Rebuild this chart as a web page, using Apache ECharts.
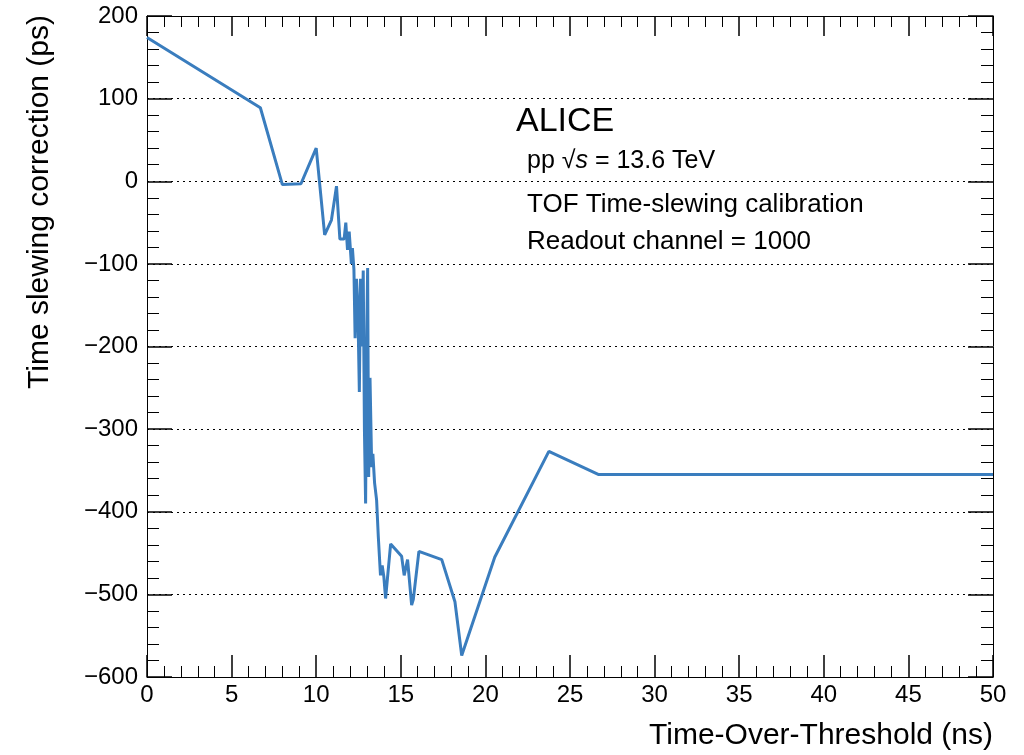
<!DOCTYPE html>
<html><head><meta charset="utf-8">
<script src="https://cdn.jsdelivr.net/npm/echarts@6/dist/echarts.min.js"></script>
<style>html,body{margin:0;padding:0;background:#fff}#c{width:1024px;height:755px}</style>
</head><body><div id="c"></div>
<script>
const tot = [0, 6.7, 8.0, 9.1, 10.0, 10.5, 10.9, 11.2, 11.4, 11.65, 11.75, 11.85, 11.95, 12.03, 12.08, 12.14, 12.23, 12.3, 12.38, 12.46, 12.55, 12.62, 12.7, 12.78, 12.85, 12.92, 12.98, 13.04, 13.1, 13.18, 13.28, 13.35, 13.45, 13.57, 13.67, 13.8, 13.9, 14.0, 14.1, 14.4, 15.05, 15.2, 15.4, 15.64, 15.74, 16.07, 17.42, 18.2, 18.6, 20.55, 23.75, 26.7, 50];
const correction = [174, 89, -4, -3, 40, -65, -47, -6, -70, -70, -50, -83, -61, -61, -100, -81, -107, -190, -118, -150, -255, -118, -200, -108, -300, -390, -200, -105, -358, -238, -346, -330, -365, -386, -430, -477, -465, -479, -505, -439, -454, -477, -458, -513, -506, -448, -458, -509, -574, -455, -327, -355, -355];
const xTicks = [0, 5, 10, 15, 20, 25, 30, 35, 40, 45, 50];
const yTicks = [-600, -500, -400, -300, -200, -100, 0, 100, 200];
const xTitle = 'Time-Over-Threshold (ns)';
const yTitle = 'Time slewing correction (ps)';
const labels = ['ALICE', 'TOF Time-slewing calibration', 'Readout channel = 1000'];

const FONT = '"Liberation Sans", Arial, sans-serif';
const chart = echarts.init(document.getElementById('c'));
const fmt = v => String(v).replace('-', '\u2212');
const G = {left: 147, right: 31, top: 16, bottom: 78};
const baseX = {
  type: 'value', min: xTicks[0], max: xTicks[xTicks.length-1], interval: 5,
  axisLine: {show: true, onZero: false, lineStyle: {color: '#000', width: 1}},
  splitLine: {show: false},
  minorTick: {show: true, splitNumber: 5, length: 11, lineStyle: {color: '#000', width: 1}},
};
const baseY = {
  type: 'value', min: yTicks[0], max: yTicks[yTicks.length-1], interval: 100,
  axisLine: {show: true, onZero: false, lineStyle: {color: '#000', width: 1}},
  minorTick: {show: true, splitNumber: 5, length: 12, lineStyle: {color: '#000', width: 1}},
};
chart.setOption({
  animation: false,
  grid: G,
  xAxis: [
    Object.assign({}, baseX, {position: 'bottom',
      axisTick: {show: true, inside: true, length: 22, lineStyle: {color: '#000', width: 1.5}},
      axisLabel: {show: true, fontSize: 24, color: '#000', fontFamily: FONT, margin: 6, formatter: fmt}}),
    Object.assign({}, baseX, {position: 'top',
      axisTick: {show: true, inside: true, length: 20, lineStyle: {color: '#000', width: 1.5}},
      axisLabel: {show: false}})
  ],
  yAxis: [
    Object.assign({}, baseY, {position: 'left',
      axisTick: {show: true, inside: true, length: 25, lineStyle: {color: '#000', width: 1.5}},
      splitLine: {show: true, lineStyle: {color: '#000', width: 1, type: [2, 4]}},
      axisLabel: {show: true, fontSize: 24, color: '#000', fontFamily: FONT, margin: 9, formatter: fmt}}),
    Object.assign({}, baseY, {position: 'right',
      axisTick: {show: true, inside: true, length: 25, lineStyle: {color: '#000', width: 1.5}},
      splitLine: {show: false},
      axisLabel: {show: false}})
  ],
  series: [{
    type: 'line', xAxisIndex: 0, yAxisIndex: 0,
    data: tot.map((t, i) => [t, correction[i]]),
    symbol: 'none', lineStyle: {color: '#3a7dbe', width: 3}, z: 5
  }],
  graphic: [
    {type: 'text', x: 993, y: 736, style: {text: xTitle, font: '30px ' + FONT, fill: '#000', align: 'right', verticalAlign: 'middle'}},
    {type: 'text', x: 40, y: 15, rotation: Math.PI/2,
      style: {text: yTitle, font: '30px ' + FONT, fill: '#000', align: 'right', verticalAlign: 'middle'}},
    {type: 'text', x: 516, y: 122, style: {text: labels[0], font: '34px ' + FONT, fill: '#000', verticalAlign: 'middle'}},
    {type: 'text', x: 527, y: 161, style: {
      text: 'pp {r|\u221A}{i|s} = 13.6 TeV', font: '25px ' + FONT, fill: '#000', verticalAlign: 'middle',
      rich: {r: {fontSize: 25, fontFamily: FONT}, i: {fontSize: 25, fontStyle: 'italic', fontFamily: FONT}}}},
    {type: 'text', x: 527, y: 205, style: {text: labels[1], font: '26px ' + FONT, fill: '#000', verticalAlign: 'middle'}},
    {type: 'text', x: 527, y: 242, style: {text: labels[2], font: '26px ' + FONT, fill: '#000', verticalAlign: 'middle'}}
  ]
});
</script></body></html>
